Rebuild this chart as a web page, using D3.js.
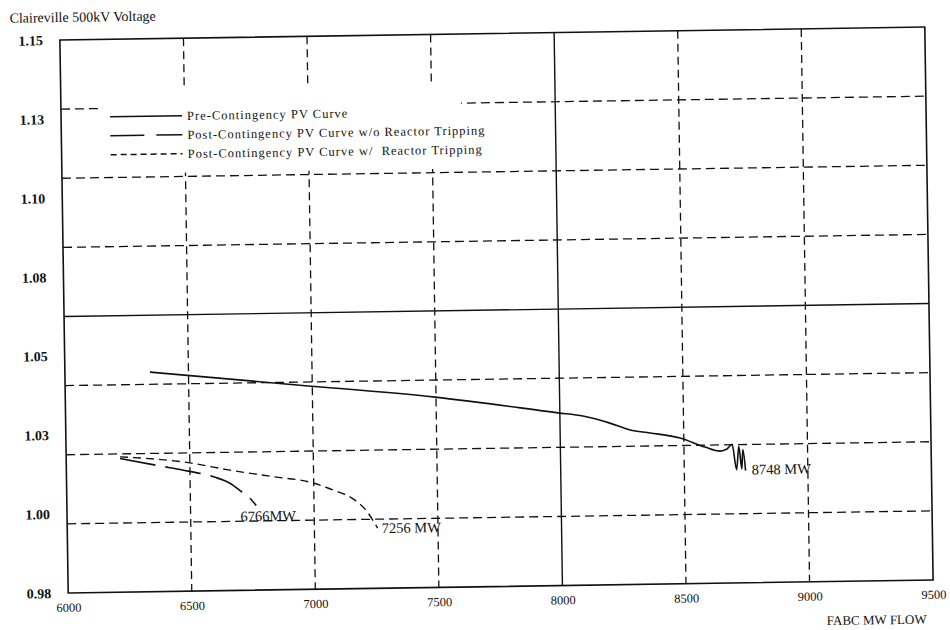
<!DOCTYPE html>
<html>
<head>
<meta charset="utf-8">
<script src="https://cdn.jsdelivr.net/npm/d3@7"></script>
<style>
  html, body { margin: 0; padding: 0; background: #fff; }
  svg { display: block; }
  text { font-family: "Liberation Serif", "Times New Roman", serif; fill: #111; }
</style>
</head>
<body>
<svg id="chart" width="950" height="630"></svg>
<script>
// ---- data ----
const xTickValues = [6000, 6500, 7000, 7500, 8000, 8500, 9000, 9500];
const yTickValues = [0.98, 1.0043, 1.0286, 1.0529, 1.0771, 1.1014, 1.1257, 1.15];
const xGridValues = [6500, 7000, 7500, 8500, 9000];
const xSolidValue = 8000;
const yGridValues = [1.00125, 1.0225, 1.04375, 1.08625, 1.1075, 1.12875];
const ySolidValue = 1.065;

const preMW = [6344, 6950, 7496, 7993, 8093, 8202, 8283, 8364, 8485, 8585, 8646, 8674, 8695, 8712, 8722, 8733, 8738, 8748];
const preV  = [1.0475, 1.0428, 1.0385, 1.0331, 1.0320, 1.0297, 1.0275, 1.0265, 1.0248, 1.0219, 1.0206, 1.0212, 1.0226, 1.0148, 1.0220, 1.0150, 1.0210, 1.0145];

const noTripMW = [6218, 6366, 6493, 6601, 6661, 6708, 6741, 6766];
const noTripV  = [1.0211, 1.0188, 1.0169, 1.0149, 1.0130, 1.0103, 1.0083, 1.0060];

const tripMW = [6218, 6494, 6662, 6837, 6992, 7079, 7166, 7206, 7256];
const tripV  = [1.0216, 1.0195, 1.0170, 1.0148, 1.0128, 1.0104, 1.0072, 1.0044, 0.9985];

const seriesNames = [
  "Pre-Contingency PV Curve",
  "Post-Contingency PV Curve w/o Reactor Tripping",
  "Post-Contingency PV Curve w/  Reactor Tripping"
];
const endLabels = ["8748 MW", "6766MW", "7256 MW"];

// ---- layout ----
const m = { left: 64, right: 929, top: 33.5, bottom: 586.5 };
const svg = d3.select("#chart");
// the whole sheet sits slightly askew
const root = svg.append("g").attr("transform", "rotate(-0.86, 496.5, 310)");

const x = d3.scaleLinear().domain([6000, 9500]).range([m.left, m.right]);
const y = d3.scaleLinear().domain([0.98, 1.15]).range([m.bottom, m.top]);

const ink = "#111";

// gridlines
const grid = root.append("g");
grid.selectAll("line.hg").data(yGridValues).join("line")
  .attr("x1", m.left).attr("x2", m.right)
  .attr("y1", d => y(d)).attr("y2", d => y(d))
  .attr("stroke", ink).attr("stroke-width", 1.3).attr("stroke-dasharray", "9,5");
grid.selectAll("line.vg").data(xGridValues).join("line")
  .attr("y1", m.top).attr("y2", m.bottom)
  .attr("x1", d => x(d)).attr("x2", d => x(d))
  .attr("stroke", ink).attr("stroke-width", 1.3).attr("stroke-dasharray", "8,5");
grid.append("line")
  .attr("x1", m.left).attr("x2", m.right)
  .attr("y1", y(ySolidValue)).attr("y2", y(ySolidValue))
  .attr("stroke", ink).attr("stroke-width", 1.4);
grid.append("line")
  .attr("x1", x(xSolidValue)).attr("x2", x(xSolidValue))
  .attr("y1", m.top).attr("y2", m.bottom)
  .attr("stroke", ink).attr("stroke-width", 1.4);

// frame
root.append("rect")
  .attr("x", m.left).attr("y", m.top)
  .attr("width", m.right - m.left).attr("height", m.bottom - m.top)
  .attr("fill", "none").attr("stroke", ink).attr("stroke-width", 1.6);

// axes (labels only)
const xAxis = root.append("g")
  .attr("transform", `translate(0,${m.bottom})`)
  .call(d3.axisBottom(x).tickValues(xTickValues).tickFormat(d3.format("d")).tickSize(0).tickPadding(10));
xAxis.select(".domain").remove();
xAxis.selectAll("text").style("font-family", '"Liberation Serif", serif').style("font-size", "12.5px").attr("fill", ink);

const yAxis = root.append("g")
  .attr("transform", `translate(47,0)`)
  .call(d3.axisLeft(y).tickValues(yTickValues).tickFormat(d3.format(".2f")).tickSize(0).tickPadding(0));
yAxis.select(".domain").remove();
yAxis.selectAll("text").style("font-family", '"Liberation Serif", serif').style("font-size", "14px")
  .style("font-weight", "bold").attr("fill", ink);

// legend
const lg = root.append("g");
lg.append("rect").attr("x", 106).attr("y", 84).attr("width", 358).attr("height", 84).attr("fill", "#fff");
const legendDash = [null, "34,12", "6,4"];
const legendRows = [111, 130, 149];
seriesNames.forEach((name, i) => {
  lg.append("line")
    .attr("x1", 113).attr("x2", 185)
    .attr("y1", legendRows[i]).attr("y2", legendRows[i])
    .attr("stroke", ink).attr("stroke-width", 1.5)
    .attr("stroke-dasharray", legendDash[i]);
  lg.append("text")
    .attr("x", 190).attr("y", legendRows[i] + 4.3)
    .style("font-size", "12.5px")
    .style("letter-spacing", "1px")
    .style("white-space", "pre")
    .text(name);
});

// curves
const line = d3.line().x(d => x(d[0])).y(d => y(d[1])).curve(d3.curveMonotoneX);
const pre = preMW.map((v, i) => [v, preV[i]]);
const noTrip = noTripMW.map((v, i) => [v, noTripV[i]]);
const trip = tripMW.map((v, i) => [v, tripV[i]]);

const curves = root.append("g").attr("fill", "none").attr("stroke", ink);
curves.append("path").attr("d", line(pre)).attr("stroke-width", 1.6);
curves.append("path").attr("d", line(noTrip)).attr("stroke-width", 1.7).attr("stroke-dasharray", "36,10");
curves.append("path").attr("d", line(trip)).attr("stroke-width", 1.4).attr("stroke-dasharray", "8,5");

// end-point labels
const preEnd = pre[pre.length - 1];
const noTripEnd = noTrip[noTrip.length - 1];
const tripEnd = trip[trip.length - 1];
const lbl = root.append("g").style("font-size", "14.5px");
lbl.append("text").attr("x", x(preEnd[0]) + 6).attr("y", y(preEnd[1]) + 4).text(endLabels[0]);
lbl.append("text").attr("x", x(noTripEnd[0]) - 16).attr("y", y(noTripEnd[1]) + 15.5).text(endLabels[1]);
lbl.append("text").attr("x", x(tripEnd[0]) + 4).attr("y", y(tripEnd[1]) + 5).text(endLabels[2]);

// titles
root.append("text").attr("x", 14).attr("y", 15.5).style("font-size", "14px").text("Claireville 500kV Voltage");
root.append("text").attr("x", 872).attr("y", 630).attr("text-anchor", "middle").style("font-size", "13px").text("FABC MW FLOW");
</script>
</body>
</html>
